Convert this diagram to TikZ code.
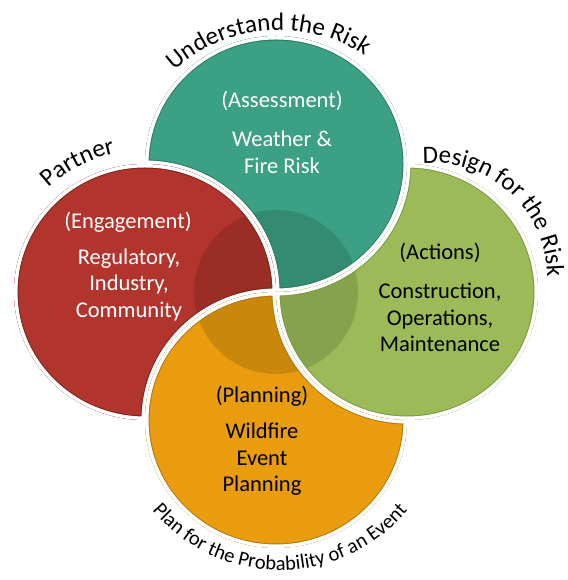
\documentclass[tikz,border=0pt]{standalone}
\usepackage{fontspec}
\setmainfont{Carlito}
\usetikzlibrary{decorations.text}
\definecolor{tealc}{HTML}{3BA084}
\definecolor{tealedge}{HTML}{2A7A62}
\definecolor{redc}{HTML}{B1352C}
\definecolor{rededge}{HTML}{7E221C}
\definecolor{greenc}{HTML}{9CBB58}
\definecolor{greenedge}{HTML}{789A3C}
\definecolor{orangec}{HTML}{E89C0E}
\definecolor{orangeedge}{HTML}{B57606}
\newcommand\leafshape[3]{%
  \begin{scope}
    \clip #3;
    \fill[#1] #3;
    \fill[black, opacity=.13] (276,288) circle[radius=82];
    \draw[#2, line width=9pt] #3;
    \draw[white, line width=7pt] #3;
  \end{scope}}
\begin{document}
\begin{tikzpicture}[x=1pt,y=1pt,
  txt/.style={font=\fontsize{22.5}{26.5}\selectfont, inner sep=0pt, align=center},
  curved/.style={decorate, decoration={text along path, text align=center, text={#1}}}]
\useasboundingbox (0,0) rectangle (567,580);
\def\tealpath{(145,416) arc[start angle=180,end angle=-90,x radius=131,y radius=128] arc[start angle=0,end angle=90,x radius=131,y radius=128] -- cycle}
\def\redpath{(276,288) arc[start angle=0,end angle=270,x radius=131,y radius=128] arc[start angle=180,end angle=90,x radius=131,y radius=128] -- cycle}
\def\greenpath{(276,288) arc[start angle=180,end angle=450,x radius=131,y radius=128] arc[start angle=0,end angle=-90,x radius=131,y radius=128] -- cycle}
\def\orangepath{(276,288) arc[start angle=90,end angle=360,x radius=131,y radius=128] arc[start angle=270,end angle=180,x radius=131,y radius=128] -- cycle}
\leafshape{tealc}{tealedge}{\tealpath}
\leafshape{redc}{rededge}{\redpath}
\leafshape{greenc}{greenedge}{\greenpath}
\leafshape{orangec}{orangeedge}{\orangepath}

% texts inside
\node[txt, white] (assess) at (282,479) {(Assessment)};
\node[txt, white] (weather) at (282,427.5) {Weather \&\\Fire Risk};
\node[txt, white] (engage) at (128,358) {(Engagement)};
\node[txt, white] (regul) at (129,295) {Regulatory,\\Industry,\\Community};
\node[txt, black] (actions) at (440,327) {(Actions)};
\node[txt, black] (constr) at (440,262.5) {Construction,\\Operations,\\Maintenance};
\node[txt, black] (planning) at (262,184) {(Planning)};
\node[txt, black] (wildfire) at (262,120.5) {Wildfire\\Event\\Planning};

% curved labels
\path[shift={(279,395)}, curved={|\fontsize{25}{30}\selectfont|Understand the Risk}]
  (164.4:155) arc[start angle=164.4,end angle=24.4,radius=155];
\path[shift={(145,288)}, curved={|\fontsize{25}{30}\selectfont|Partner}]
  (167.5:142) arc[start angle=167.5,end angle=67.5,radius=142];
\path[shift={(433,303)}, curved={|\fontsize{25}{30}\selectfont|Design for the Risk}]
  (117.6:114) arc[start angle=117.6,end angle=-22.4,radius=114];
\path[shift={(280,177)}, curved={|\fontsize{20.5}{24}\selectfont|Plan for the Probability of an Event}]
  (200:167) arc[start angle=200,end angle=340,radius=167];
\end{tikzpicture}
\end{document}
